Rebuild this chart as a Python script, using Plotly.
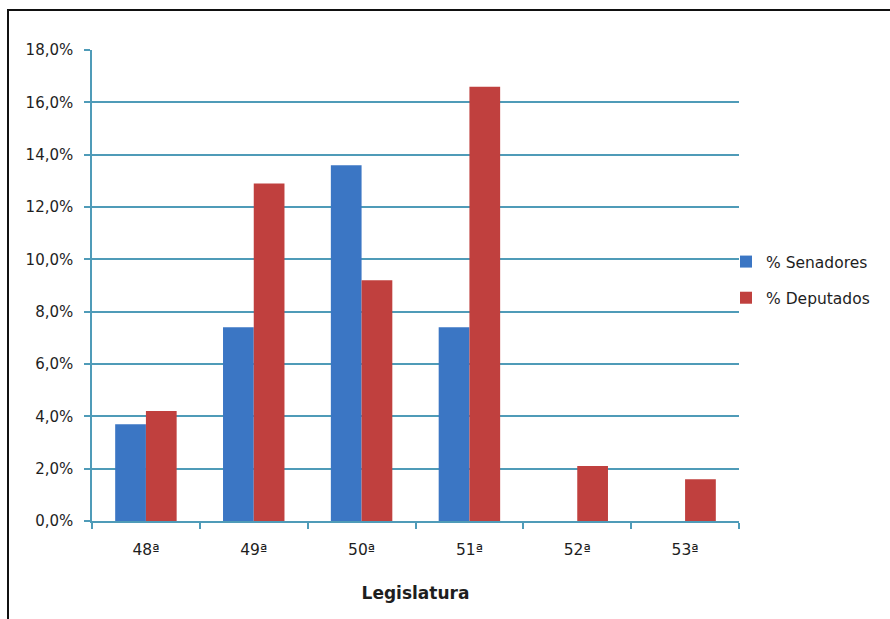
import plotly.graph_objects as go

# Legislatures and share of members (fraction) per chamber
legislaturas = ["48ª", "49ª", "50ª", "51ª", "52ª", "53ª"]
senadores = [0.037, 0.074, 0.136, 0.074, 0.0, 0.0]
deputados = [0.042, 0.129, 0.092, 0.166, 0.021, 0.016]

W, H = 890, 619
ML, MR, MT, MB = 92, 151, 50, 98
AXIS_COLOR = "#4f9bb8"
TEXT_COLOR = "#1e1e1e"
FONT = "DejaVu Sans"

fig = go.Figure()
fig.add_trace(go.Bar(
    x=legislaturas, y=senadores, name="% Senadores",
    marker=dict(color="#3b76c4", line=dict(width=0)),
    legendgroup="s",
))
fig.add_trace(go.Bar(
    x=legislaturas, y=deputados, name="% Deputados",
    marker=dict(color="#c0403e", line=dict(width=0)),
    legendgroup="d",
))

# pixel -> paper conversion for the frame and legend placement
pw = W - ML - MR
ph = H - MT - MB
def px_x(p):
    return (p - ML) / pw
def px_y(p):
    return (H - MB - p) / ph

# outer frame: only the top and left edges fall inside the page
fig.add_shape(type="rect", xref="paper", yref="paper",
              x0=px_x(8), x1=px_x(W + 20), y0=px_y(H + 20), y1=px_y(10),
              line=dict(color="#111111", width=2), fillcolor="rgba(0,0,0,0)",
              layer="above")

fig.update_layout(
    width=W, height=H,
    margin=dict(l=ML, r=MR, t=MT, b=MB, pad=0),
    paper_bgcolor="white", plot_bgcolor="white",
    separators=",.",
    barmode="group", bargap=0.43, bargroupgap=0.0,
    font=dict(family=FONT, color=TEXT_COLOR, size=15),
    legend=dict(
        x=px_x(726), xanchor="left", y=px_y(280), yanchor="middle",
        font=dict(size=15.5, family=FONT, color=TEXT_COLOR),
        itemwidth=30, tracegroupgap=13,
        bgcolor="rgba(0,0,0,0)",
    ),
    xaxis=dict(
        showline=True, linecolor=AXIS_COLOR, linewidth=1.5,
        ticks="outside", tickson="boundaries", ticklen=6,
        tickcolor=AXIS_COLOR, tickwidth=1.5,
        tickfont=dict(size=15.5), ticklabelstandoff=14,
        title=dict(text="<b>Legislatura</b>", font=dict(size=17), standoff=29),
        showgrid=False,
    ),
    yaxis=dict(
        range=[0, 0.18], dtick=0.02, tickformat=".1%",
        showline=True, linecolor=AXIS_COLOR, linewidth=1.5,
        ticks="outside", ticklen=6, tickcolor=AXIS_COLOR, tickwidth=1.5,
        tickfont=dict(size=15), ticklabelstandoff=8,
        showgrid=True, gridcolor=AXIS_COLOR, gridwidth=1.5,
        zeroline=False,
    ),
)

fig.write_html("out.html")
